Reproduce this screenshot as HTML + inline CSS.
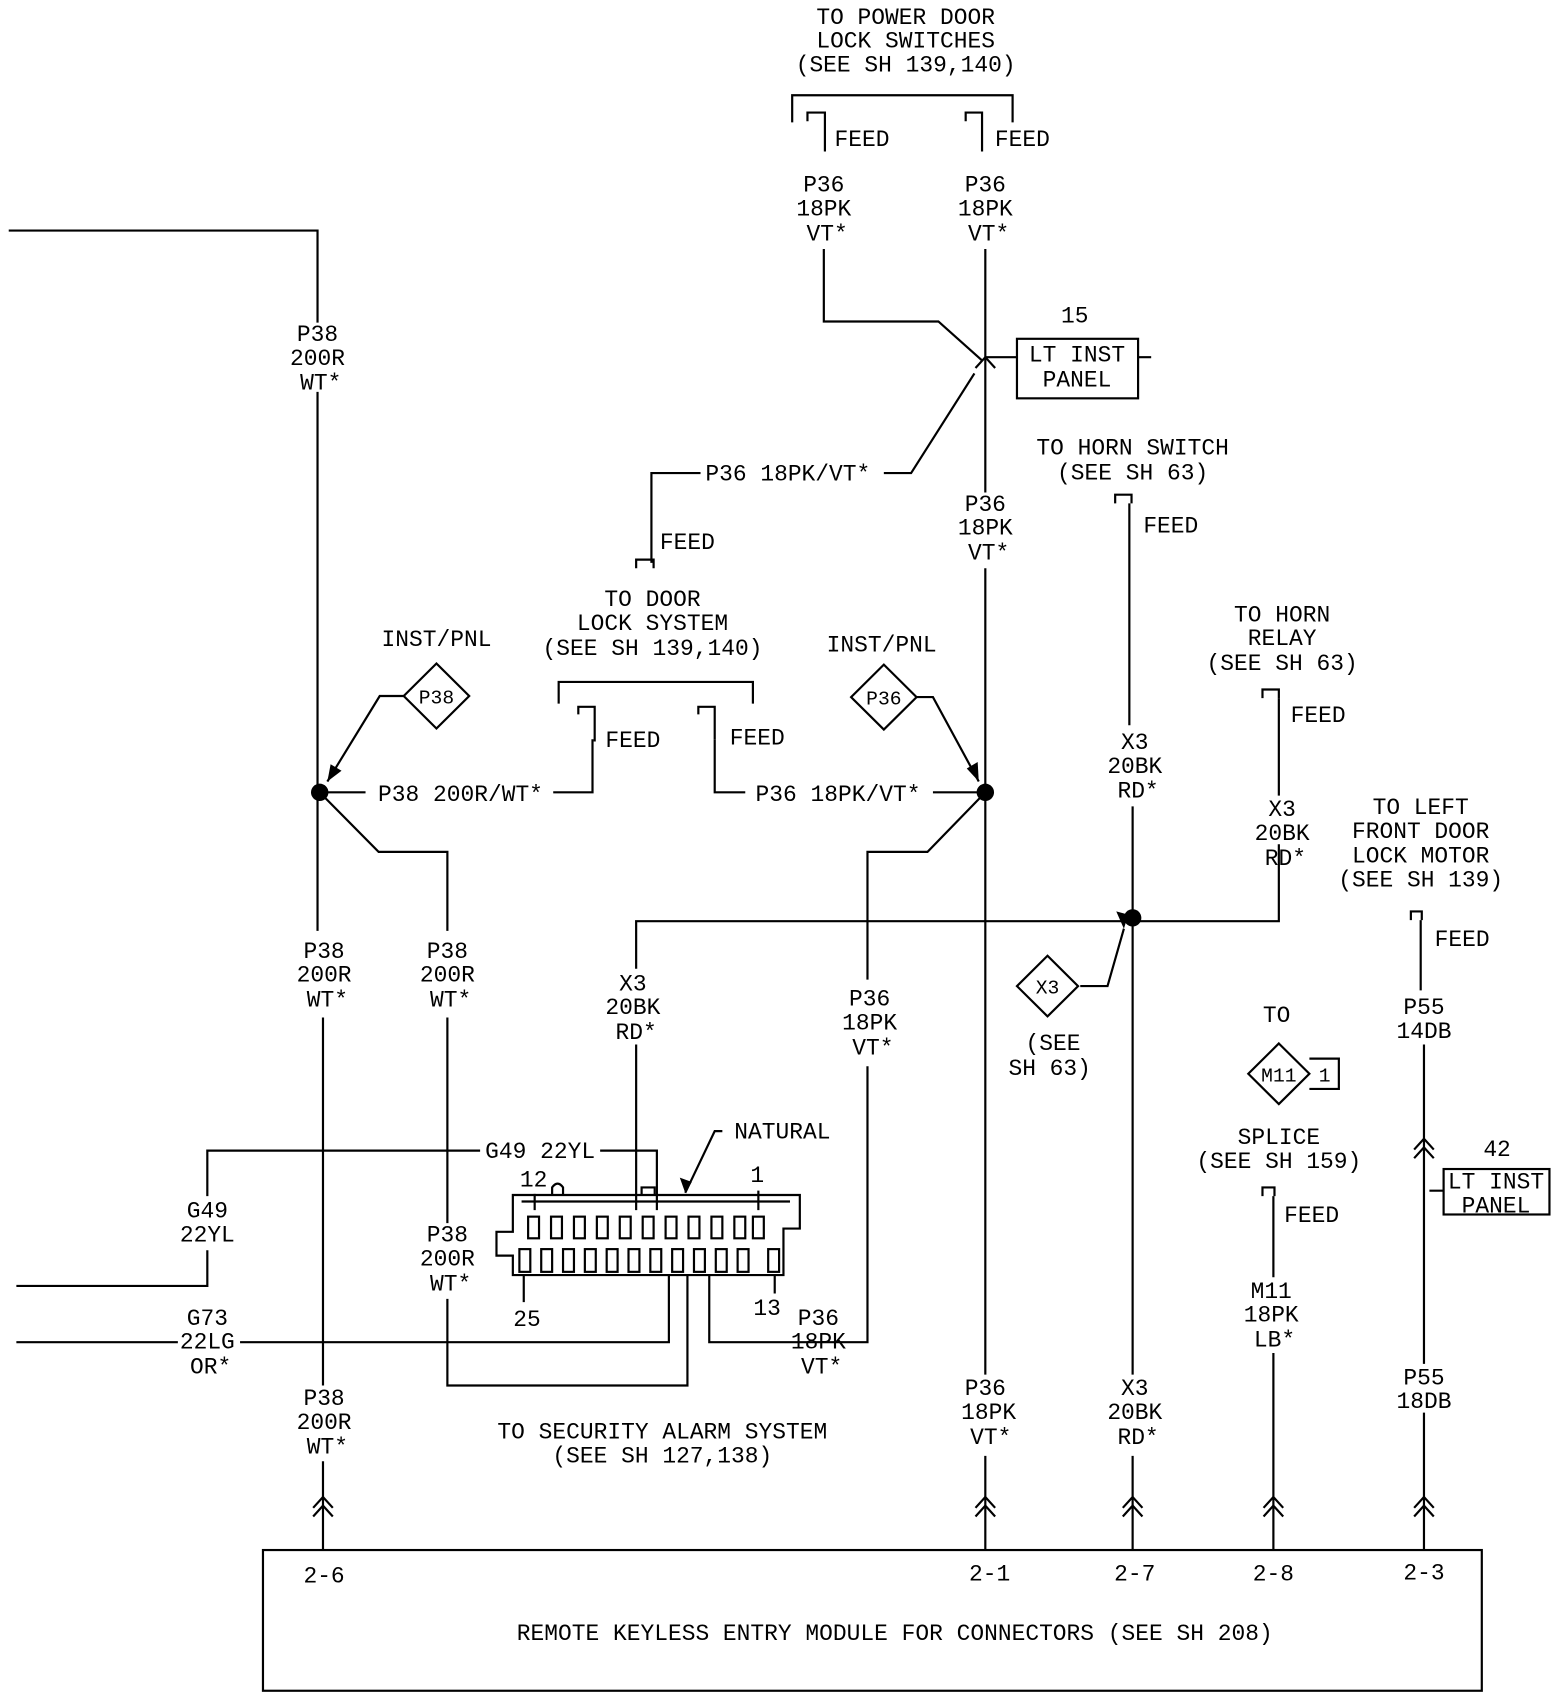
<!DOCTYPE html>
<html><head><style>html,body{margin:0;padding:0;background:#fff}svg{display:block}
text{font-family:"Liberation Mono",monospace;font-size:21px;fill:#000;text-anchor:middle}</style></head>
<body>
<svg width="1568" height="1694" viewBox="0 0 1437 1565" preserveAspectRatio="none" xmlns="http://www.w3.org/2000/svg">
<g fill="none" stroke="#000" stroke-width="2">
<!-- left P38 trunk -->
<path d="M8 213H291V298M291 362V860M296 940V1280M296 1350V1432"/>
<path d="M291 732H335M507 732H543V683"/>
<path d="M370 643H348L300 722"/>
<path d="M293 732L347 787H410V860M410 940V1130M410 1200V1280H630V1178"/>
<!-- G49 / G73 -->
<path d="M190 1105V1063H440M550 1063H602V1118M190 1155V1188H15"/>
<path d="M15 1240H163M220 1240H613V1178"/>
<!-- connector -->
<path d="M470 1104H733V1135H718V1178H470V1160H455V1138H470Z"/>
<path d="M478 1110H724"/>
<path d="M506 1104V1097Q511 1090 516 1097V1104M588 1104V1097H600V1104"/>
<path d="M490 1118V1103M695 1118V1100M480 1178V1203M710 1178V1195"/>
<path d="M662 1045H655L628 1102"/>
</g>
<g fill="none" stroke="#000" stroke-width="2">
<!-- pins -->
<rect x="484" y="1124" width="10" height="20"/><rect x="505" y="1124" width="10" height="20"/><rect x="526" y="1124" width="10" height="20"/><rect x="547" y="1124" width="10" height="20"/><rect x="568" y="1124" width="10" height="20"/><rect x="589" y="1124" width="10" height="20"/><rect x="610" y="1124" width="10" height="20"/><rect x="631" y="1124" width="10" height="20"/><rect x="652" y="1124" width="10" height="20"/><rect x="673" y="1124" width="10" height="20"/><rect x="690" y="1124" width="10" height="20"/>
<rect x="476" y="1154" width="10" height="21"/><rect x="496" y="1154" width="10" height="21"/><rect x="516" y="1154" width="10" height="21"/><rect x="536" y="1154" width="10" height="21"/><rect x="556" y="1154" width="10" height="21"/><rect x="576" y="1154" width="10" height="21"/><rect x="596" y="1154" width="10" height="21"/><rect x="616" y="1154" width="10" height="21"/><rect x="636" y="1154" width="10" height="21"/><rect x="656" y="1154" width="10" height="21"/><rect x="676" y="1154" width="10" height="21"/><rect x="704" y="1154" width="10" height="21"/>
</g>
<g fill="none" stroke="#000" stroke-width="2">
<!-- X3 horizontal -->
<path d="M583 1118V965M583 895V851H1172V780M1172 735V645"/>
<!-- P36 main -->
<path d="M903 230V455M903 525V1270M903 1345V1432"/>
<path d="M755 230V297H860L900 333M810 437H835L893 345"/>
<path d="M642 437H597V520"/>
<path d="M655 683V732H683M855 732H900"/>
<path d="M840 644H855L897 722"/>
<path d="M903 732L850 787H795V905M795 985V1240H650V1178"/>
<path d="M726 113V88H928V113M512 650V630H690V650"/>
<path d="M903 330H932M1043 330H1055"/>
<rect x="932" y="313" width="111" height="55"/>
<!-- X3 right -->
<path d="M1035 465V670M1038 745V1270M1038 1345V1432"/>
<path d="M990 911H1015L1030 858"/>
<!-- M11 -->
<path d="M1167 1105V1180M1167 1250V1432"/>
<!-- P55 -->
<path d="M1302 850V915M1305 965V1260M1305 1305V1432M1310 1100H1323"/>
<rect x="1323" y="1080" width="97" height="42"/>
<!-- module -->
<rect x="241" y="1432" width="1117" height="130"/>
<!-- diamonds -->
<path d="M400 613L430 643L400 673L370 643Z"/>
<path d="M810 614L840 644L810 674L780 644Z"/>
<path d="M960 883L988 911L960 939L932 911Z"/>
<path d="M1172 964L1200 992L1172 1020L1144 992Z"/>
<path d="M1200 978H1227V1006H1200"/>
<!-- feed symbols -->
<path d="M740 112V104H756V112M756 104V140M885 112V104H900V112M900 104V140M583 525V517H599V525M530 660V653H545V660M545 653V685M640 660V653H655V660M655 653V683M1022 465V457H1037V465M1157 645V637H1172V645M1293 850V842H1303V850M1157 1105V1097H1168V1105"/>
<!-- chevrons -->
<path d="M287 1393L296 1383L305 1393M287 1401L296 1391L305 1401M894 1393L903 1383L912 1393M894 1401L903 1391L912 1401M1029 1393L1038 1383L1047 1393M1029 1401L1038 1391L1047 1401M1158 1393L1167 1383L1176 1393M1158 1401L1167 1391L1176 1401M1296 1393L1305 1383L1314 1393M1296 1401L1305 1391L1314 1401M1296 1062L1305 1052L1314 1062M1296 1070L1305 1060L1314 1070M894 340L903 330L912 340"/>
</g>
<g fill="#000">
<circle cx="293" cy="732" r="8"/><circle cx="903" cy="732" r="8"/><circle cx="1038" cy="848" r="8"/>
<path d="M300 722L303 706L313 712Z"/><path d="M897 722L886 710L896 704Z"/><path d="M1030 858L1023 842L1034 845Z"/><path d="M628 1102L623 1088L634 1092Z"/>
</g>
<text x="830" y="22">TO POWER DOOR</text><text x="830" y="44">LOCK SWITCHES</text><text x="830" y="66">(SEE SH 139,140)</text>
<text x="790" y="135">FEED</text><text x="937" y="135">FEED</text>
<text x="755" y="177">P36</text><text x="755" y="199">18PK</text><text x="758" y="222">VT*</text>
<text x="903" y="177">P36</text><text x="903" y="199">18PK</text><text x="906" y="222">VT*</text>
<text x="291" y="315">P38</text><text x="291" y="337">200R</text><text x="294" y="360">WT*</text>
<text x="985" y="298">15</text><text x="987" y="334">LT INST</text><text x="987" y="357">PANEL</text>
<text x="722" y="444">P36 18PK/VT*</text>
<text x="1038" y="420">TO HORN SWITCH</text><text x="1038" y="443">(SEE SH 63)</text>
<text x="903" y="472">P36</text><text x="903" y="494">18PK</text><text x="906" y="517">VT*</text>
<text x="1073" y="492">FEED</text><text x="630" y="507">FEED</text>
<text x="598" y="560">TO DOOR</text><text x="598" y="582">LOCK SYSTEM</text><text x="598" y="605">(SEE SH 139,140)</text>
<text x="1175" y="574">TO HORN</text><text x="1175" y="596">RELAY</text><text x="1175" y="619">(SEE SH 63)</text>
<text x="400" y="597">INST/PNL</text><text x="808" y="602">INST/PNL</text>
<text x="400" y="650" style="font-size:18px">P38</text><text x="810" y="651" style="font-size:18px">P36</text>
<text x="580" y="690">FEED</text><text x="694" y="688">FEED</text><text x="1208" y="667">FEED</text>
<text x="422" y="740">P38 200R/WT*</text><text x="768" y="740">P36 18PK/VT*</text>
<text x="1040" y="692">X3</text><text x="1040" y="714">20BK</text><text x="1043" y="737">RD*</text>
<text x="1175" y="754">X3</text><text x="1175" y="776">20BK</text><text x="1178" y="799">RD*</text>
<text x="1302" y="752">TO LEFT</text><text x="1302" y="774">FRONT DOOR</text><text x="1302" y="797">LOCK MOTOR</text><text x="1302" y="819">(SEE SH 139)</text>
<text x="1340" y="874">FEED</text>
<text x="297" y="885">P38</text><text x="297" y="907">200R</text><text x="300" y="930">WT*</text>
<text x="410" y="885">P38</text><text x="410" y="907">200R</text><text x="413" y="930">WT*</text>
<text x="580" y="915">X3</text><text x="580" y="937">20BK</text><text x="583" y="960">RD*</text>
<text x="797" y="929">P36</text><text x="797" y="951">18PK</text><text x="800" y="974">VT*</text>
<text x="1305" y="937">P55</text><text x="1305" y="959">14DB</text>
<text x="1170" y="944">TO</text>
<text x="960" y="918" style="font-size:18px">X3</text>
<text x="1172" y="999" style="font-size:18px">M11</text><text x="1214" y="999" style="font-size:18px">1</text>
<text x="965" y="970">(SEE</text><text x="962" y="993">SH 63)</text>
<text x="717" y="1052">NATURAL</text>
<text x="495" y="1070">G49 22YL</text>
<text x="1372" y="1068">42</text>
<text x="1172" y="1057">SPLICE</text><text x="1172" y="1079">(SEE SH 159)</text>
<text x="1371" y="1098">LT INST</text><text x="1371" y="1120">PANEL</text>
<text x="489" y="1096">12</text><text x="694" y="1092">1</text>
<text x="190" y="1125">G49</text><text x="190" y="1147">22YL</text>
<text x="1202" y="1129">FEED</text>
<text x="410" y="1147">P38</text><text x="410" y="1169">200R</text><text x="413" y="1192">WT*</text>
<text x="1165" y="1199">M11</text><text x="1165" y="1221">18PK</text><text x="1168" y="1244">LB*</text>
<text x="703" y="1215">13</text><text x="483" y="1225">25</text>
<text x="750" y="1224">P36</text><text x="750" y="1246">18PK</text><text x="753" y="1269">VT*</text>
<text x="190" y="1224">G73</text><text x="190" y="1246">22LG</text><text x="193" y="1269">OR*</text>
<text x="1305" y="1279">P55</text><text x="1305" y="1301">18DB</text>
<text x="903" y="1289">P36</text><text x="906" y="1311">18PK</text><text x="908" y="1334">VT*</text>
<text x="1040" y="1289">X3</text><text x="1040" y="1311">20BK</text><text x="1043" y="1334">RD*</text>
<text x="297" y="1298">P38</text><text x="297" y="1320">200R</text><text x="300" y="1343">WT*</text>
<text x="607" y="1329">TO SECURITY ALARM SYSTEM</text><text x="607" y="1351">(SEE SH 127,138)</text>
<text x="297" y="1462">2-6</text><text x="907" y="1460">2-1</text><text x="1040" y="1460">2-7</text><text x="1167" y="1460">2-8</text><text x="1305" y="1459">2-3</text>
<text x="820" y="1515">REMOTE KEYLESS ENTRY MODULE FOR CONNECTORS (SEE SH 208)</text>
</svg>
</body></html>
